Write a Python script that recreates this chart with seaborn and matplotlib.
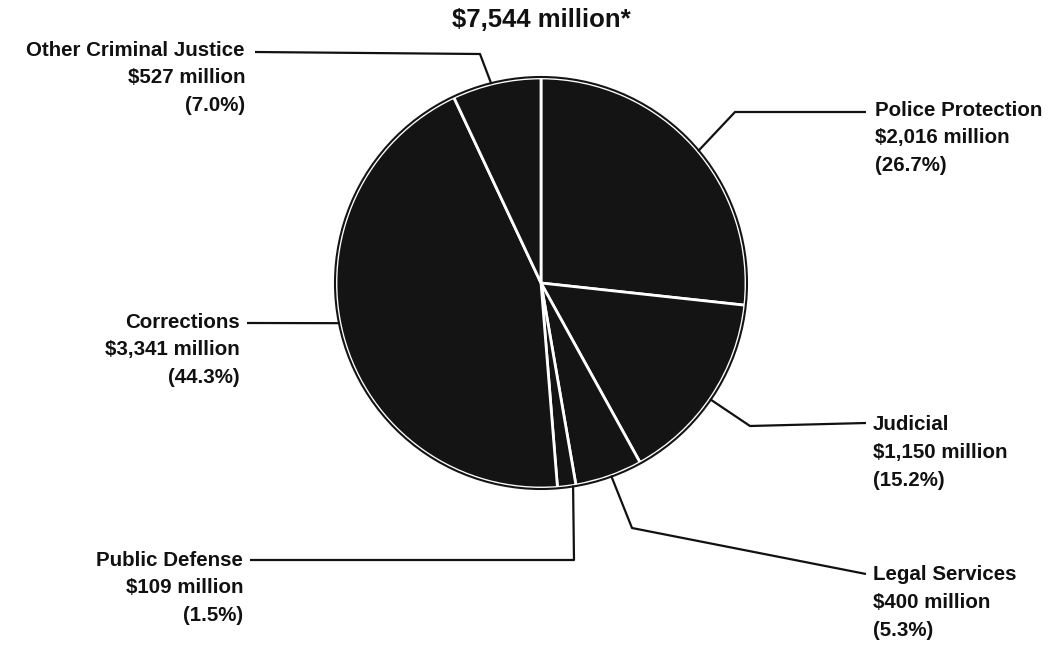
import numpy as np
import matplotlib
matplotlib.use("Agg")
import matplotlib.pyplot as plt
import seaborn as sns

sns.set_theme(style="white")
plt.rcParams["font.family"] = ["Liberation Sans", "DejaVu Sans"]

# ---- data (clockwise from 12 o'clock) ----
categories = ["Police Protection", "Judicial", "Legal Services",
              "Public Defense", "Corrections", "Other Criminal Justice"]
amounts = [2016, 1150, 400, 109, 3341, 527]          # $ million
percents = [26.7, 15.2, 5.3, 1.5, 44.3, 7.0]
total_label = "$7,544 million*"

# ---- layout (pixel space, origin top-left) ----
CX, CY, R = 541, 283, 205
# angle (visual degrees) where each leader touches the pie
anchor_deg = [40, -34.5, -70, -81, -168.7, 104]
# elbow point and end point of each leader, then text anchor
elbows = [(735, 112), (750, 426), (632, 528), (574, 560), None, (480, 54)]
ends = [(866, 112), (866, 423), (866, 574), (250, 560), (247, 323), (255, 52)]
text_pos = [(875, 110), (873, 425), (873, 575), (243, 560), (240, 322), (245, 50)]
text_ha = ["left", "left", "left", "right", "right", "right"]
LINE_H = 27.7

fig = plt.figure(figsize=(10.5, 6.46), dpi=100)
ax = fig.add_axes([0, 0, 1, 1])

colors = sns.color_palette(["#141414"] * len(amounts))
# y axis inverted below -> startangle -90 / counterclock gives visual clockwise from top
ax.pie(amounts, colors=colors, startangle=-90, counterclock=True,
       center=(CX, CY), radius=R,
       wedgeprops=dict(edgecolor="white", linewidth=2.0))
ax.add_patch(plt.Circle((CX, CY), R + 1, fill=False, edgecolor="#141414", lw=1.5))

ax.set_xlim(0, 1050)
ax.set_ylim(646, 0)
ax.set_aspect("auto")
ax.axis("off")

for i, cat in enumerate(categories):
    a = np.deg2rad(anchor_deg[i])
    px, py = CX + R * np.cos(a), CY - R * np.sin(a)
    pts = [(px, py)]
    if elbows[i] is not None:
        pts.append(elbows[i])
    pts.append(ends[i])
    xs, ys = zip(*pts)
    ax.plot(xs, ys, color="#111111", lw=1.6, solid_capstyle="butt")

    lines = [cat, f"${amounts[i]:,} million", f"({percents[i]:.1f}%)"]
    tx, ty = text_pos[i]
    for k, ln in enumerate(lines):
        ax.text(tx, ty + k * LINE_H, ln, ha=text_ha[i], va="center",
                fontsize=14.8, color="#111111", fontweight="bold")

ax.text(CX, 20, total_label, ha="center", va="center", fontsize=18.5,
        fontweight="bold", color="#111111")

fig.savefig("out.png", dpi=100, facecolor="white")
